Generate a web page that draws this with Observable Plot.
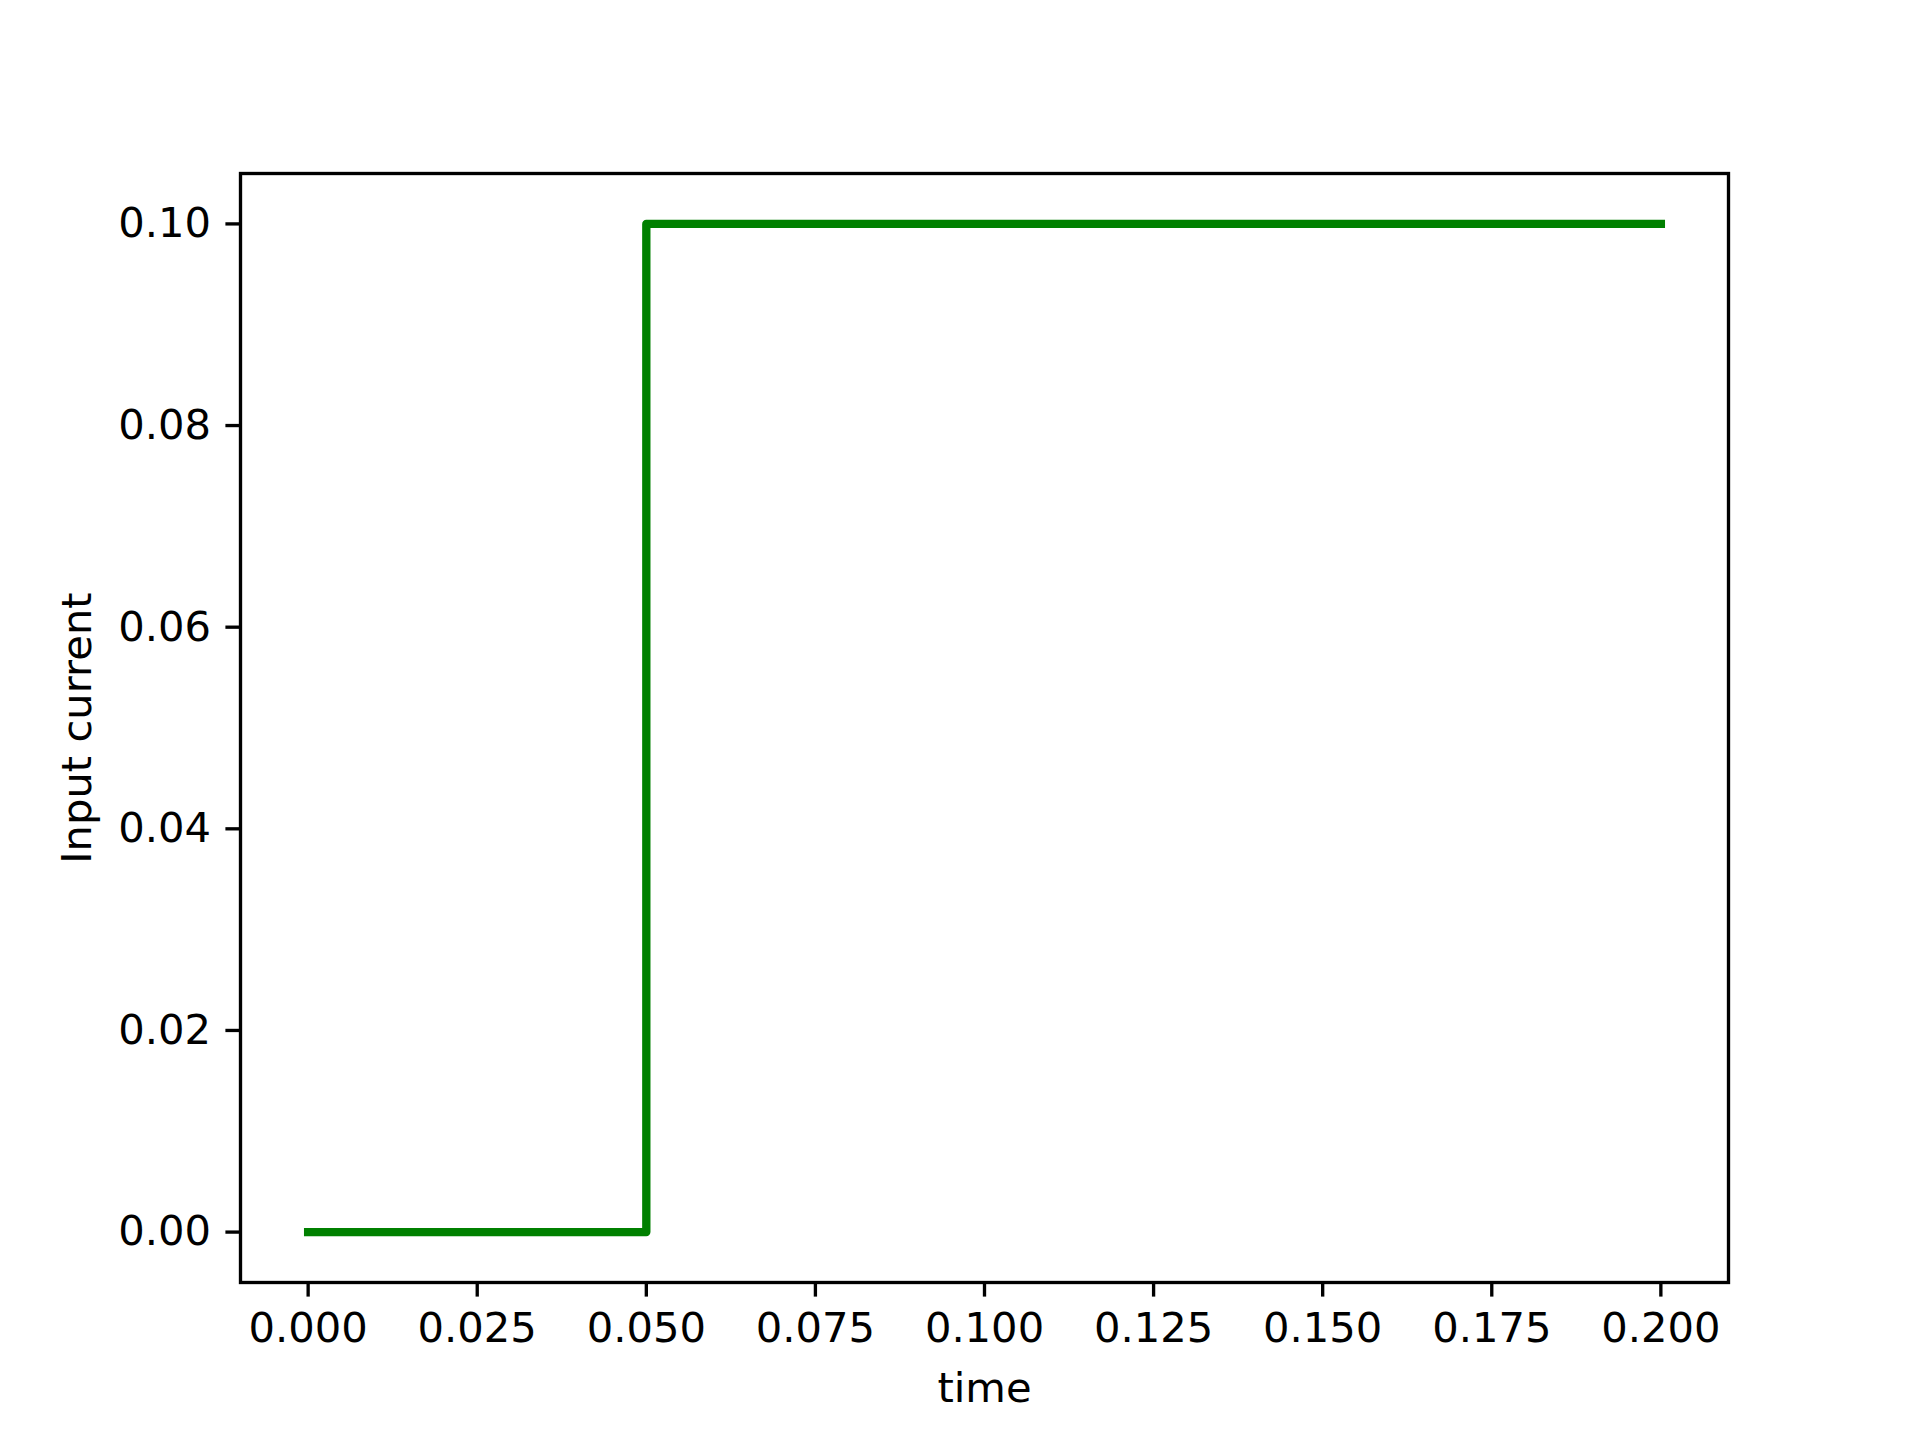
<!DOCTYPE html>
<html>
<head>
<meta charset="utf-8">
<script src="https://cdn.jsdelivr.net/npm/d3@7"></script>
<script src="https://cdn.jsdelivr.net/npm/@observablehq/plot@0.6"></script>
<style>
  html, body { margin: 0; padding: 0; background: #fff; }
  svg { display: block; }
</style>
</head>
<body>
<div id="chart"></div>
<script>
const time = [0, 0.05, 0.05, 0.2];
const current = [0, 0, 0.1, 0.1];
const xTicks = [0, 0.025, 0.05, 0.075, 0.1, 0.125, 0.15, 0.175, 0.2];
const yTicks = [0, 0.02, 0.04, 0.06, 0.08, 0.1];
const xLabel = "time";
const yLabel = "Input current";

const data = time.map((t, i) => ({t, c: current[i]}));

const fs = 41.67;
const lw = 3.33;

const chart = Plot.plot({
  width: 1920,
  height: 1440,
  marginLeft: 240,
  marginRight: 192,
  marginTop: 173,
  marginBottom: 158,
  style: {fontFamily: "DejaVu Sans", fontSize: fs + "px", background: "#fff", color: "#000", overflow: "visible"},
  x: {domain: [-0.01, 0.21]},
  y: {domain: [-0.005, 0.105]},
  marks: [
    Plot.line(data, {x: "t", y: "c", stroke: "#008000", strokeWidth: 8.33, strokeLinecap: "square", strokeLinejoin: "round"}),
    Plot.frame({stroke: "#000", strokeWidth: lw}),
    Plot.axisX({ticks: xTicks, tickFormat: d3.format(".3f"), tickSize: 14.6, tickPadding: 15, fontSize: fs, strokeWidth: lw, label: null}),
    Plot.axisY({ticks: yTicks, tickFormat: d3.format(".2f"), tickSize: 14.6, tickPadding: 15, fontSize: fs, strokeWidth: lw, label: null}),
    Plot.text([xLabel], {frameAnchor: "bottom", dy: 119, lineAnchor: "bottom", textAnchor: "middle", fontSize: fs, text: d => d}),
    Plot.text([yLabel], {frameAnchor: "left", dx: -150, rotate: -90, lineAnchor: "bottom", textAnchor: "middle", fontSize: fs, text: d => d})
  ]
});
document.getElementById("chart").appendChild(chart);
</script>
</body>
</html>
